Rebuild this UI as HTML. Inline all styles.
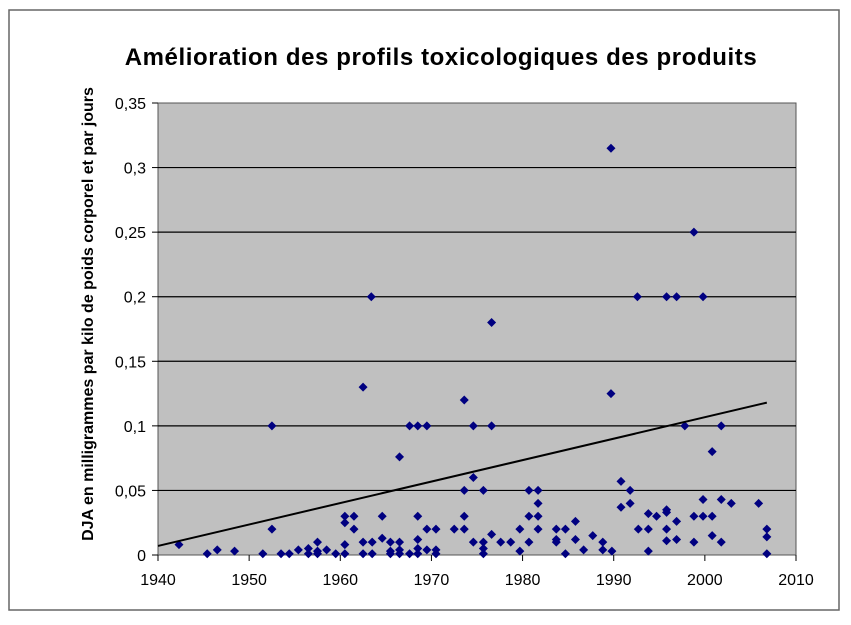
<!DOCTYPE html>
<html><head><meta charset="utf-8">
<style>
body{margin:0;background:#fff;}
svg text{font-family:"Liberation Sans",Arial,sans-serif;}
</style></head>
<body>
<svg id="chart" width="851" height="620" viewBox="0 0 851 620">
<rect x="9" y="10" width="830" height="600" fill="#fff" stroke="#666" stroke-width="1.5"/>
<text x="441" y="65" text-anchor="middle" font-size="24" font-weight="bold" letter-spacing="0.6">Amélioration des profils toxicologiques des produits</text>
<text transform="translate(93,314) rotate(-90)" text-anchor="middle" font-size="16" font-weight="bold">DJA en milligrammes par kilo de poids corporel et par jours</text>
<rect x="158" y="103" width="638" height="452" fill="#c0c0c0" stroke="#555"/>
<g id="grid"></g><g id="axes"></g><g id="pts"></g><g id="trend"></g>
</svg>
<script>
const yTicks=[0,0.05,0.1,0.15,0.2,0.25,0.3,0.35];
const yTickLabels=["0","0,05","0,1","0,15","0,2","0,25","0,3","0,35"];
const xTicks=[1940,1950,1960,1970,1980,1990,2000,2010];
const years=[1942.3,1945.4,1946.5,1948.4,1951.5,1952.5,1952.5,1953.5,1954.4,1955.4,1956.5,1956.5,1957.5,1957.5,1957.5,1958.5,1959.5,
1960.5,1960.5,1960.5,1960.5,1961.5,1961.5,1962.5,1962.5,1962.5,1963.4,1963.5,1963.5,1964.6,1964.6,1965.5,1965.5,1965.5,
1966.5,1966.5,1966.5,1966.5,1967.6,1967.6,1968.5,1968.5,1968.5,1968.5,1968.5,1969.5,1969.5,1969.5,1970.5,1970.5,1970.5,
1972.5,1973.6,1973.6,1973.6,1973.6,1974.6,1974.6,1974.6,1975.7,1975.7,1975.7,1975.7,1976.6,1976.6,1976.6,1977.6,1978.7,
1979.7,1979.7,1980.7,1980.7,1980.7,1981.7,1981.7,1981.7,1981.7,1983.7,1983.7,1983.7,1984.7,1984.7,1985.8,1985.8,1986.7,
1987.7,1988.8,1988.8,1989.7,1989.7,1989.8,1990.8,1990.8,1991.8,1991.8,1992.6,1992.7,1993.8,1993.8,1993.8,1994.7,
1995.8,1995.8,1995.8,1995.8,1995.8,1996.9,1996.9,1996.9,1997.8,1998.8,1998.8,1998.8,1999.8,1999.8,1999.8,
2000.8,2000.8,2000.8,2001.8,2001.8,2001.8,2002.9,2005.9,2006.8,2006.8,2006.8];
const values=[0.008,0.001,0.004,0.003,0.001,0.1,0.02,0.001,0.001,0.004,0.005,0.001,0.01,0.003,0.001,0.004,0.001,
0.03,0.025,0.008,0.001,0.03,0.02,0.13,0.01,0.001,0.2,0.01,0.001,0.03,0.013,0.01,0.003,0.001,
0.076,0.01,0.004,0.001,0.1,0.001,0.1,0.03,0.012,0.005,0.001,0.1,0.02,0.004,0.02,0.004,0.001,
0.02,0.12,0.05,0.03,0.02,0.1,0.06,0.01,0.05,0.01,0.005,0.001,0.1,0.18,0.016,0.01,0.01,
0.02,0.003,0.05,0.03,0.01,0.05,0.04,0.03,0.02,0.02,0.012,0.01,0.02,0.001,0.026,0.012,0.004,
0.015,0.01,0.004,0.315,0.125,0.003,0.057,0.037,0.05,0.04,0.2,0.02,0.032,0.02,0.003,0.03,
0.2,0.035,0.033,0.02,0.011,0.2,0.026,0.012,0.1,0.25,0.03,0.01,0.2,0.043,0.03,
0.08,0.03,0.015,0.1,0.043,0.01,0.04,0.04,0.02,0.014,0.001];
const trendStart=[1940,0.007];
const trendEnd=[2006.8,0.118];
const X=v=>158+(v-1940)*(638/70);
const Y=v=>555-v*(452/0.35);
const NS="http://www.w3.org/2000/svg";
function mk(tag,attrs,parent){const e=document.createElementNS(NS,tag);for(const k in attrs)e.setAttribute(k,attrs[k]);document.getElementById(parent).appendChild(e);return e;}
yTicks.forEach((t,i)=>{
  if(t>0&&t<0.35){const g=mk('line',{x1:158,x2:796,y1:Y(t),y2:Y(t),stroke:'#000','stroke-width':1.2},'grid');
  
  }
  const tk=mk('line',{x1:152,x2:158,y1:Y(t),y2:Y(t),stroke:'#000'},'axes');
  
  
  const l=mk('text',{x:146,y:Y(t)+6,'text-anchor':'end','font-size':16},'axes');l.textContent=yTickLabels[i];
  
  
});
xTicks.forEach(t=>{
  const tk=mk('line',{x1:X(t),x2:X(t),y1:555,y2:561,stroke:'#000'},'axes');
  
  
  const l=mk('text',{x:X(t),y:585,'text-anchor':'middle','font-size':16},'axes');l.textContent=t;
  
  
});
years.forEach((yr,i)=>{
  const cx=X(yr),cy=Y(values[i]);
  const p=mk('polygon',{points:`${cx},${cy-4.5} ${cx+4.5},${cy} ${cx},${cy+4.5} ${cx-4.5},${cy}`,fill:'#000080'},'pts');
  
  
});
const tl=mk('line',{x1:X(trendStart[0]),y1:Y(trendStart[1]),x2:X(trendEnd[0]),y2:Y(trendEnd[1]),stroke:'#000','stroke-width':2},'trend');


</script>
</body></html>
